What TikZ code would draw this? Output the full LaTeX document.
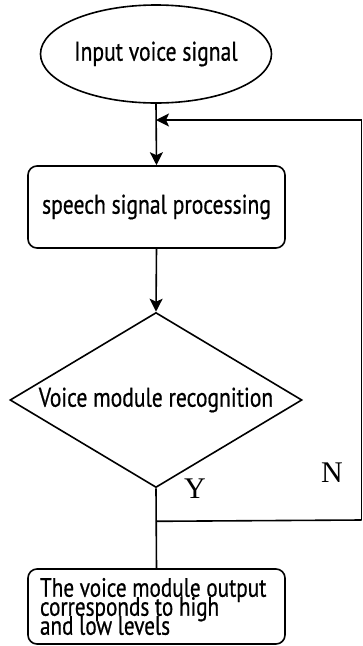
\documentclass[tikz,border=0pt]{standalone}
\usepackage{fontspec}
\setmainfont{PT Sans}[FakeStretch=0.8, FakeBold=0.6]
\newfontfamily\ynfont{Liberation Serif}
\usetikzlibrary{shapes.geometric,arrows.meta}

\begin{document}
\begin{tikzpicture}[x=1pt,y=-1pt,
  line width=1.6pt,
  every node/.style={inner sep=0pt, font=\fontsize{27}{27}\selectfont},
  terminal/.style={draw, ellipse, minimum width=226pt, minimum height=98pt},
  process/.style={draw, rounded corners=9pt, minimum width=257pt},
  decision/.style={draw, diamond, minimum width=292pt, minimum height=175pt},
  flow/.style={-{Stealth[length=13pt,width=13pt,inset=3pt]}},
  branch/.style={font=\ynfont\fontsize{30}{30}\selectfont}
]
\useasboundingbox (0,0) rectangle (363,646);

% blocks of the flow
\node[terminal] (in) at (156,54) {\raisebox{-2pt}{Input voice signal}};
\node[process, minimum height=82pt] (proc) at (156.5,207) {speech signal processing};
\node[decision] (dec) at (156,400) {\makebox[0pt]{Voice module recognition}};
\node[process, minimum height=75pt] (out) at (156.5,606.5)
  {\parbox{233pt}{\fontsize{26.5}{19}\selectfont\lineskiplimit=-100pt\raggedright
   The voice module output\\corresponds to high\\and low levels}};

% branch labels
\node[branch] (yes) at (195,489) {Y};
\node[branch] (no) at (332,473) {N};

% main connectors
\draw[flow] (in.south) -- (proc.north);
\draw[flow] (proc.south) -- (dec.north);
\draw (dec.south) -- (out.north);

% return path for the N branch
\path (dec.south) ++(0,33) coordinate (split);
\coordinate (corner) at (361.5,520);
\coordinate (back) at (361.5,120);
\draw (split) -- (corner);
\draw[line width=1.1pt] (corner) -- (back);
\draw[flow] (back) -- (in.south |- back);
\end{tikzpicture}
\end{document}
